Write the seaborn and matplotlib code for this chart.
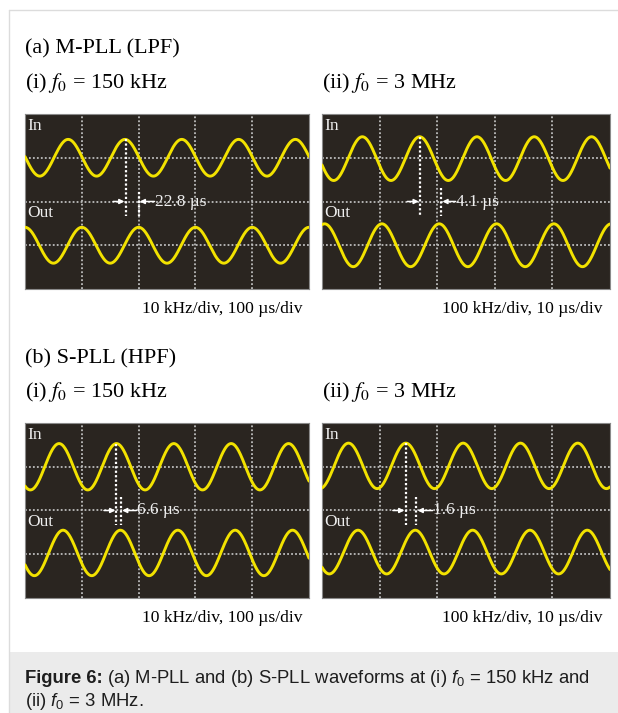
import numpy as np
import matplotlib
matplotlib.use("Agg")
import matplotlib.pyplot as plt
import seaborn as sns
from matplotlib.lines import Line2D
from matplotlib.patches import Rectangle

# Werte aus den Oszillogrammen (Einheit: Rasterteilung, x 0..5, y 0..4)
panel_ids = ["a-i", "a-ii", "b-i", "b-ii"]
in_peak = [0.76, 0.70, 0.60, 0.46]
out_peak = [1.00, 1.04, 0.67, 0.625]
period = [1.0, 0.995, 1.01, 0.995]
in_amp = [0.42, 0.50, 0.53, 0.52]
out_amp = [0.41, 0.49, 0.52, 0.50]
in_center = [3.0, 2.98, 3.0, 3.02]
out_center = [1.0, 1.0, 1.03, 1.05]

# Verzoegerungs-Markierungen
mark1_x = [1.77, 1.70, 1.61, 1.45]
mark2_x = [2.00, 2.07, 1.69, 1.64]
mark2_top = [2.22, 2.31, 2.31, 2.31]
delay_text = ["22.8 µs", "4.1 µs", "6.6 µs", "1.6 µs"]
delay_text_x = [2.29, 2.33, 1.97, 1.93]

scale_text = ["10 kHz/div, 100 µs/div", "100 kHz/div, 10 µs/div",
              "10 kHz/div, 100 µs/div", "100 kHz/div, 10 µs/div"]
row_titles = ["(a) M-PLL (LPF)", "(b) S-PLL (HPF)"]
col_titles = ["(i) $f_0$ = 150 kHz", "(ii) $f_0$ = 3 MHz"]

# Layout in Pixeln (links, oben, rechts, unten)
W, H = 618, 713
boxes = [(25, 114, 309, 289), (322, 114, 610, 289),
         (25, 423, 309, 598), (322, 423, 610, 598)]

bg = "#2a2520"
yellow = "#f2e200"
grid_col = "#bdbdbd"

sns.set_style("white")
plt.rcParams["mathtext.fontset"] = "custom"
plt.rcParams["mathtext.rm"] = "Liberation Sans"
plt.rcParams["mathtext.it"] = "Liberation Sans:italic"
plt.rcParams["mathtext.bf"] = "Liberation Sans:bold"

fig = plt.figure(figsize=(W / 100, H / 100), dpi=100)


def fx(px):
    return px / W


def fy(py):
    return 1 - py / H


# Seitenrahmen und Bildunterschrift-Kasten
fig.add_artist(Line2D([fx(9), 1], [fy(10), fy(10)], color="#dcdcdc", lw=1))
fig.add_artist(Line2D([fx(9), fx(9)], [fy(10), 0], color="#dcdcdc", lw=1))
fig.add_artist(Rectangle((fx(9), 0), 1 - fx(9), fy(652), color="#ebebeb", lw=0, zorder=0))

x = np.linspace(0, 5, 800)

for i, (l, t, r, b) in enumerate(boxes):
    ax = fig.add_axes([fx(l), fy(b), fx(r) - fx(l), fy(t) - fy(b)])
    ax.set_facecolor(bg)
    ax.set_xlim(0, 5)
    ax.set_ylim(0, 4)
    ax.set_xticks([])
    ax.set_yticks([])
    for s in ax.spines.values():
        s.set_color("#8a8a8a")
        s.set_linewidth(0.8)

    for gx in [1, 2, 3, 4]:
        ax.axvline(gx, color=grid_col, lw=1.3, ls=(0, (1, 1.2)), zorder=1)
    for gy in [1, 2, 3]:
        ax.axhline(gy, color=grid_col, lw=1.3, ls=(0, (1, 1.2)), zorder=1)

    y_in = in_center[i] + in_amp[i] * np.cos(2 * np.pi * (x - in_peak[i]) / period[i])
    y_out = out_center[i] + out_amp[i] * np.cos(2 * np.pi * (x - out_peak[i]) / period[i])
    sns.lineplot(x=x, y=y_in, ax=ax, color=yellow, lw=2.1, estimator=None, zorder=3)
    sns.lineplot(x=x, y=y_out, ax=ax, color=yellow, lw=2.1, estimator=None, zorder=3)

    # Markierungslinien
    ax.plot([mark1_x[i], mark1_x[i]], [in_center[i] + in_amp[i], 1.68],
            color="white", lw=1.6, ls=(0, (1, 1)), zorder=4)
    ax.plot([mark2_x[i], mark2_x[i]], [mark2_top[i], 1.68],
            color="white", lw=1.6, ls=(0, (1, 1)), zorder=4)
    ax.annotate("", xy=(mark1_x[i] - 0.02, 2), xytext=(mark1_x[i] - 0.22, 2),
                arrowprops=dict(arrowstyle="-|>", color="white", lw=1.1,
                                mutation_scale=7, shrinkA=0, shrinkB=0), zorder=5)
    ax.annotate("", xy=(mark2_x[i] + 0.02, 2), xytext=(delay_text_x[i] - 0.01, 2),
                arrowprops=dict(arrowstyle="-|>", color="white", lw=1.1,
                                mutation_scale=7, shrinkA=0, shrinkB=0), zorder=5)
    ax.text(delay_text_x[i], 2.0, delay_text[i], color="#eeeeee", fontsize=12.5,
            family="Liberation Serif", ha="left", va="center", zorder=5)
    ax.text(0.04, 3.73, "In", color="#eeeeee", fontsize=12.5,
            family="Liberation Serif", ha="left", va="center", zorder=5)
    ax.text(0.04, 1.74, "Out", color="#eeeeee", fontsize=12.5,
            family="Liberation Serif", ha="left", va="center", zorder=5)

    # Skalierungsangabe unter dem Bild
    fig.text(fx(r - 7), fy(b + 24), scale_text[i], fontsize=12.6,
             family="Liberation Serif", ha="right", va="baseline", color="black")

# Ueberschriften
for row, (t_title, t_sub) in enumerate([(53, 88), (363, 397)]):
    fig.text(fx(25), fy(t_title), row_titles[row], fontsize=16,
             family="Liberation Serif", ha="left", va="baseline", color="black")
    fig.text(fx(25), fy(t_sub), col_titles[0], fontsize=16, family="Liberation Serif",
             math_fontfamily="stix", ha="left", va="baseline", color="black")
    fig.text(fx(322), fy(t_sub), col_titles[1], fontsize=16, family="Liberation Serif",
             math_fontfamily="stix", ha="left", va="baseline", color="black")

# Bildunterschrift: fetter Teil, dann normaler Text direkt dahinter
cap_col = "#1e1e1e"
bold = fig.text(fx(25), fy(683), "Figure 6:", fontsize=13.3, family="Liberation Sans",
                weight="bold", ha="left", va="baseline", color=cap_col)
renderer = fig.canvas.get_renderer()
bx = bold.get_window_extent(renderer).x1
fig.text(bx / W + fx(4), fy(683),
         r"(a) M-PLL and (b) S-PLL waveforms at (i) $f_0$ = 150 kHz and",
         fontsize=13.3, family="Liberation Sans", ha="left", va="baseline", color=cap_col)
fig.text(fx(25), fy(706), r"(ii) $f_0$ = 3 MHz.",
         fontsize=13.3, family="Liberation Sans", ha="left", va="baseline", color=cap_col)

fig.savefig("out.png", dpi=100)
